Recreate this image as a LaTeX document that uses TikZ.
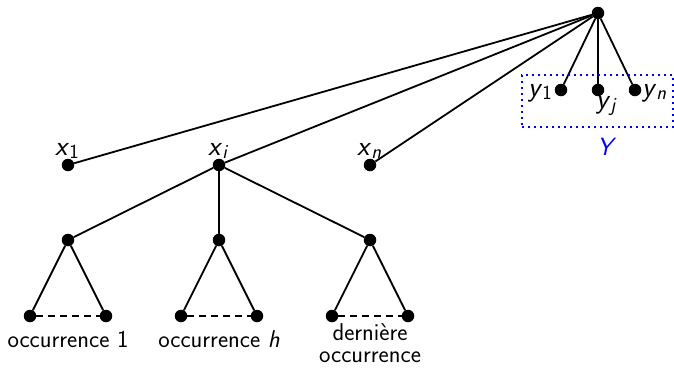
\documentclass[tikz,border=0pt]{standalone}
\tikzset{
  dot/.style={circle,fill=black,inner sep=0pt,minimum size=12.5pt},
  edge/.style={line width=1.8pt},
  dashedge/.style={line width=1.8pt,dash pattern=on 7pt off 5pt},
  lbl/.style={inner sep=0pt,anchor=base,font=\fontsize{24.3}{22}\selectfont\sffamily},
  mlbl/.style={inner sep=0pt,anchor=base west,font=\fontsize{28}{30}\selectfont\sffamily},
}
\newcommand{\sv}[2]{\textit{#1}\raisebox{-0.12em}{\fontsize{20}{22}\selectfont #2}}
\begin{document}
\begin{tikzpicture}[x=1pt,y=-1pt]
\useasboundingbox (0,0) rectangle (674,368);
\node[dot] (r) at (598,13) {};
\node[dot] (x1) at (68,165) {};
\node[dot] (xi) at (219,165) {};
\node[dot] (xn) at (370,165) {};
\node[dot] (y1) at (561,90) {};
\node[dot] (yj) at (598,90) {};
\node[dot] (yn) at (635,90) {};
\node[dot] (a1) at (68,240) {};
\node[dot] (a2) at (219,240) {};
\node[dot] (a3) at (370,240) {};
\node[dot] (l1) at (30,316) {};
\node[dot] (r1) at (106,316) {};
\node[dot] (l2) at (181,316) {};
\node[dot] (r2) at (257,316) {};
\node[dot] (l3) at (332,316) {};
\node[dot] (r3) at (408,316) {};
\foreach \t in {x1,xi,xn,y1,yj,yn} \draw[edge] (r) -- (\t);
\foreach \t in {a1,a2,a3} \draw[edge] (xi) -- (\t);
\draw[edge] (l1) -- (a1) -- (r1);
\draw[edge] (l2) -- (a2) -- (r2);
\draw[edge] (l3) -- (a3) -- (r3);
\draw[dashedge] (l1) -- (r1);
\draw[dashedge] (l2) -- (r2);
\draw[dashedge] (l3) -- (r3);
\node[mlbl] (tx1) at (55,155) {\sv{x}{1}};
\node[mlbl] (txi) at (208,155) {\sv{x}{\textit{i}}};
\node[mlbl] (txn) at (357,155) {\sv{x}{\textit{n}}};
\node[mlbl] (ty1) at (528,96) {\sv{y}{1}};
\node[mlbl] (tyj) at (596,108) {\sv{y}{\textit{j}}};
\node[mlbl] (tyn) at (642,96) {\sv{y}{\textit{n}}};
\node[draw=blue,line width=2pt,dash pattern=on 2pt off 4pt,inner sep=0pt,minimum width=151pt,minimum height=52pt] (box) at (597.5,101) {};
\node[mlbl,text=blue,font=\fontsize{25}{28}\selectfont\sffamily] (tY) at (597,155) {\textit{Y}};
\node[lbl] (o1) at (68,347) {occurrence 1};
\node[lbl] (o2) at (219,347) {occurrence \textit{h}};
\node[lbl,anchor=north,align=center] (o3) at (370,323) {dernière\\occurrence};
\end{tikzpicture}
\end{document}
